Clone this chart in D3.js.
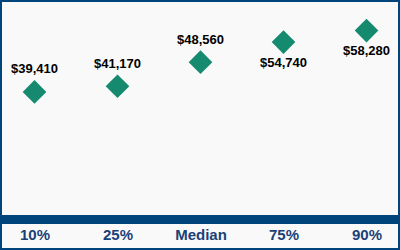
<!DOCTYPE html>
<html>
<head>
<meta charset="utf-8">
<script src="https://cdn.jsdelivr.net/npm/d3@7"></script>
<style>
  body { margin: 0; padding: 0; background: #fff; }
  svg { display: block; }
</style>
</head>
<body>
<div id="vis-holder"></div>
<script>
// Data
const categories = ["10%", "25%", "Median", "75%", "90%"];
const salaries = [39410, 41170, 48560, 54740, 58280];
// label above (true) or below (false) the marker
const labelAbove = [true, true, true, false, false];

const width = 400;
const height = 250;
const navy = "#00447c";

const svg = d3.select("#vis-holder")
              .append("svg")
              .attr("width", width)
              .attr("height", height);

// background + frame
svg.append("rect")
   .attr("x", 1).attr("y", 1)
   .attr("width", width - 2).attr("height", height - 2)
   .attr("fill", "#f9f9f9")
   .attr("stroke", navy)
   .attr("stroke-width", 2);

// scales
const x = d3.scalePoint()
            .domain(categories)
            .range([34.5, 366.5]);

const y = d3.scaleLinear()
            .domain([0, 67700])
            .range([220, 0]);

// thick base band (x axis line)
svg.append("rect")
   .attr("x", 2).attr("y", 215)
   .attr("width", width - 4).attr("height", 9)
   .attr("fill", navy);

// x axis labels
const xAxis = svg.append("g")
   .attr("transform", "translate(0,228)")
   .call(d3.axisBottom(x).tickSize(0).tickPadding(0));
xAxis.select(".domain").remove();
xAxis.selectAll("text")
     .attr("dy", "0.71em")
     .attr("y", 1.5)
     .attr("fill", "#1a4177")
     .style("font-family", "Arial, 'Liberation Sans', sans-serif")
     .style("font-weight", "bold")
     .style("font-size", "15px");

// points
const pts = categories.map((c, i) => ({ cat: c, value: salaries[i], above: labelAbove[i] }));

svg.selectAll("path.marker")
   .data(pts)
   .enter()
   .append("path")
     .attr("class", "marker")
     .attr("d", d3.symbol(d3.symbolSquare, 280))
     .attr("transform", (d) => `translate(${x(d.cat)},${y(d.value)}) rotate(45)`)
     .attr("fill", "#158a6e");

// value labels
const fmt = d3.format("$,");
svg.selectAll("text.val")
   .data(pts)
   .enter()
   .append("text")
     .attr("class", "val")
     .attr("x", (d) => x(d.cat))
     .attr("y", (d) => y(d.value) + (d.above ? -18.5 : 24.5))
     .attr("text-anchor", "middle")
     .attr("fill", "#000")
     .style("font-family", "Arial, 'Liberation Sans', sans-serif")
     .style("font-weight", "bold")
     .style("font-size", "13px")
     .text((d) => fmt(d.value));
</script>
</body>
</html>
